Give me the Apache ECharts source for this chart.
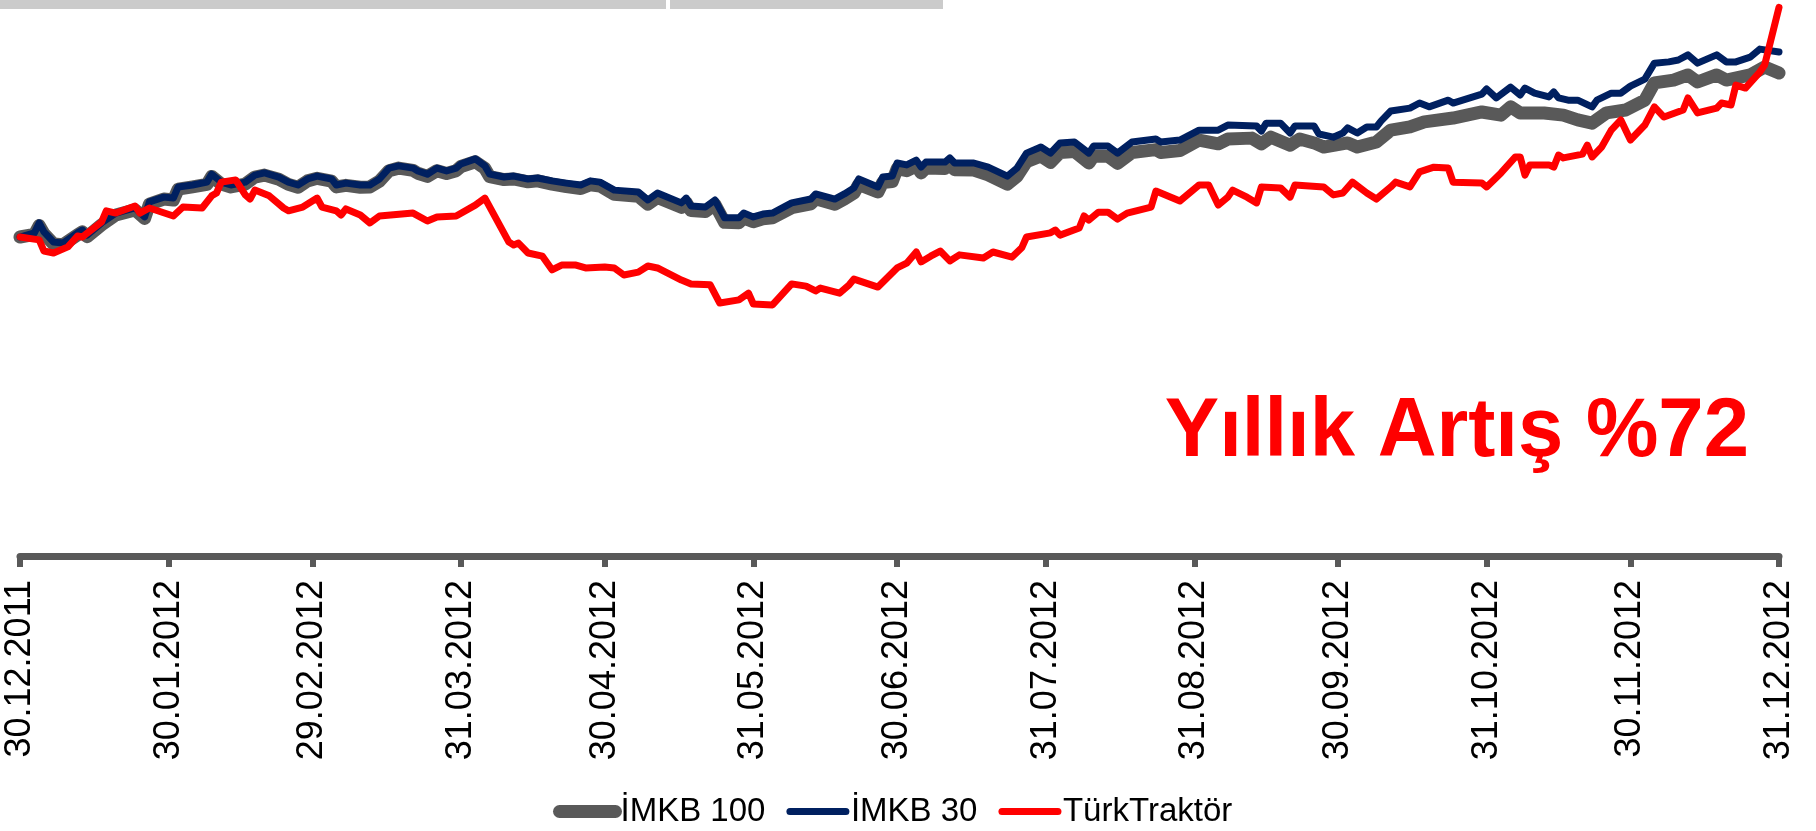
<!DOCTYPE html>
<html>
<head>
<meta charset="utf-8">
<title>TürkTraktör - Yıllık Artış</title>
<script src="https://cdn.jsdelivr.net/npm/echarts@6/dist/echarts.min.js"></script>
<style>
  html, body { margin: 0; padding: 0; background: #fff; }
  #chart { width: 1816px; height: 831px; }
</style>
</head>
<body>
<div id="chart"></div>
<script>
// x = days since 30.12.2011, y = index (30.12.2011 = 100)
const tickDays = [0, 31, 61, 92, 122, 153, 183, 214, 245, 275, 306, 336, 367]
const tickLabels = ['30.12.2011', '30.01.2012', '29.02.2012', '31.03.2012', '30.04.2012', '31.05.2012',
  '30.06.2012', '31.07.2012', '31.08.2012', '30.09.2012', '31.10.2012', '30.11.2012', '31.12.2012']

const imkb100Days = [0, 3, 4, 5, 7, 9, 12, 13, 14, 17, 20, 24, 26, 27, 30, 32, 33, 36, 39, 40,
  42, 44, 47, 49, 51, 54, 56, 58, 60, 62, 65, 66, 68, 71, 73, 75, 77, 79, 82, 83,
  85, 87, 89, 91, 92, 95, 97, 98, 101, 103, 106, 108, 111, 114, 117, 119, 121, 124, 129, 131,
  133, 138, 139, 140, 143, 145, 147, 150, 151, 153, 155, 157, 161, 165, 166, 170, 172, 174, 175, 179,
  180, 182, 183, 185, 187, 188, 189, 193, 194, 195, 199, 202, 206, 208, 210, 213, 215, 217, 220, 223,
  224, 227, 229, 232, 237, 238, 242, 246, 250, 252, 257, 259, 261, 265, 267, 270, 272, 277, 279, 283,
  286, 290, 293, 299, 305, 309, 311, 313, 318, 322, 325, 328, 331, 335, 339, 341, 345, 348, 350, 354,
  356, 361, 364, 367]
const imkb100 = [100, 100.8, 103.6, 101.0, 97.8, 97.6, 100.7, 101.6, 100.1, 103.8, 106.9, 108.5, 105.8, 110.3, 111.9, 111.6, 115.0, 115.7, 116.5, 119.0,
  116.6, 115.7, 116.6, 118.8, 119.4, 118.1, 116.5, 115.6, 117.6, 118.4, 117.5, 115.7, 116.2, 115.6, 115.7, 117.5, 120.8, 121.6, 120.9, 120.0,
  119.0, 120.8, 119.9, 120.8, 122.1, 123.6, 121.5, 118.9, 118.0, 118.2, 117.3, 117.6, 116.6, 115.8, 115.2, 116.4, 116.0, 113.4, 112.8, 110.3,
  112.4, 109.3, 110.8, 108.3, 108.0, 110.2, 104.6, 104.5, 106.0, 104.8, 105.7, 106.0, 109.2, 110.4, 112.0, 110.3, 111.9, 113.8, 116.5, 114.1,
  117.1, 117.4, 121.4, 120.8, 122.3, 120.1, 121.6, 121.5, 122.8, 121.1, 121.0, 119.5, 116.6, 119.0, 123.6, 125.4, 123.4, 126.5, 126.8, 123.2,
  125.4, 125.3, 123.1, 126.5, 127.4, 126.5, 127.1, 130.4, 129.2, 130.7, 131.0, 129.2, 131.3, 128.8, 130.7, 129.5, 128.2, 129.5, 128.2, 129.8,
  133.5, 134.5, 136.1, 137.3, 139.2, 138.2, 140.8, 138.9, 138.9, 138.2, 136.7, 135.7, 138.9, 139.8, 142.9, 148.3, 149.2, 150.8, 148.6, 150.8,
  149.2, 150.8, 153.3, 151.4]

const imkb30Days = [0, 3, 4, 5, 7, 9, 12, 13, 14, 17, 20, 24, 26, 27, 30, 32, 33, 36, 39, 40,
  42, 44, 47, 49, 51, 54, 56, 58, 60, 62, 65, 66, 68, 71, 73, 75, 77, 79, 82, 83,
  85, 87, 89, 91, 92, 95, 97, 98, 101, 103, 106, 108, 111, 114, 117, 119, 121, 124, 129, 131,
  133, 138, 139, 140, 143, 145, 147, 150, 151, 153, 155, 157, 161, 165, 166, 170, 172, 174, 175, 179,
  180, 182, 183, 185, 187, 188, 189, 193, 194, 195, 199, 202, 206, 208, 210, 213, 215, 217, 220, 223,
  224, 227, 229, 232, 237, 238, 242, 246, 250, 252, 258, 259, 260, 263, 265, 266, 270, 271, 274, 276,
  277, 279, 281, 283, 284, 286, 290, 292, 294, 298, 299, 305, 306, 308, 311, 313, 314, 316, 319, 320,
  321, 323, 325, 328, 329, 332, 334, 336, 339, 341, 344, 346, 348, 350, 354, 356, 358, 361, 363, 367]
const imkb30 = [100, 101.3, 104.4, 101.6, 98.4, 98.1, 101.3, 102.2, 100.6, 104.4, 107.5, 109.1, 106.3, 111.0, 112.5, 112.2, 115.7, 116.3, 117.2, 119.7,
  117.2, 116.3, 117.2, 119.4, 120.1, 118.8, 117.2, 116.3, 118.2, 119.1, 118.2, 116.3, 116.9, 116.3, 116.3, 118.2, 121.6, 122.3, 121.6, 120.7,
  119.7, 121.6, 120.7, 121.6, 122.9, 124.5, 122.3, 119.7, 118.8, 119.1, 118.2, 118.5, 117.6, 116.9, 116.3, 117.6, 117.2, 114.7, 114.1, 111.6,
  113.8, 110.7, 112.2, 109.7, 109.4, 111.6, 106.0, 106.0, 107.5, 106.3, 107.2, 107.5, 110.7, 111.9, 113.5, 111.9, 113.5, 115.4, 118.2, 115.7,
  118.8, 119.1, 123.2, 122.6, 124.1, 121.9, 123.5, 123.5, 124.8, 123.2, 123.2, 121.9, 119.1, 121.6, 126.3, 128.2, 126.3, 129.5, 129.8, 126.3,
  128.5, 128.5, 126.3, 129.8, 130.7, 129.8, 130.4, 133.5, 133.5, 135.1, 134.8, 133.2, 135.7, 135.7, 132.6, 134.8, 134.8, 132.3, 131.3, 132.6,
  134.2, 132.6, 134.5, 134.5, 136.4, 139.5, 140.4, 142.0, 140.8, 142.9, 142.0, 144.8, 146.4, 143.6, 147.0, 144.5, 146.7, 145.1, 143.9, 145.5,
  143.6, 142.9, 142.9, 140.8, 142.9, 145.1, 145.1, 147.3, 149.5, 154.5, 154.9, 155.5, 157.1, 154.5, 157.1, 154.9, 154.9, 156.4, 158.9, 158.0]

const turkDays = [0, 4, 5, 7, 10, 12, 13, 17, 18, 20, 24, 25, 27, 32, 34, 38, 40, 41, 42, 45,
  47, 48, 49, 52, 55, 56, 59, 62, 63, 66, 67, 68, 71, 73, 75, 82, 85, 87, 91, 95,
  97, 102, 103, 104, 106, 109, 111, 113, 116, 118, 122, 124, 126, 129, 131, 133, 138, 140, 144, 146,
  150, 152, 153, 157, 161, 164, 166, 167, 171, 173, 174, 179, 183, 185, 187, 188, 190, 192, 194, 196,
  201, 203, 207, 209, 210, 215, 216, 217, 221, 222, 223, 225, 227, 229, 231, 236, 237, 242, 246, 248,
  250, 252, 253, 256, 258, 259, 263, 265, 266, 272, 274, 276, 278, 281, 283, 286, 287, 290, 292, 295,
  298, 299, 305, 306, 309, 312, 313, 314, 315, 319, 320, 321, 322, 326, 327, 328, 330, 332, 334, 336,
  339, 341, 343, 347, 348, 350, 354, 355, 357, 358, 360, 363, 364, 367]
const turk = [100, 99.1, 95.6, 95.0, 96.9, 100.3, 100.0, 104.7, 108.2, 107.5, 109.7, 107.5, 109.1, 106.6, 109.4, 109.1, 112.9, 113.8, 117.2, 117.9,
  113.2, 111.9, 114.7, 112.9, 109.1, 108.2, 109.4, 112.2, 109.4, 108.2, 106.9, 108.8, 106.9, 104.4, 106.6, 107.5, 105.0, 106.3, 106.6, 110.0,
  112.2, 98.4, 97.5, 98.1, 95.0, 94.0, 89.7, 91.2, 91.2, 90.3, 90.6, 90.3, 88.1, 89.0, 90.9, 90.3, 86.5, 85.3, 85.0, 79.3,
  80.3, 82.4, 79.0, 78.7, 85.3, 84.6, 83.1, 84.0, 82.4, 85.0, 86.8, 84.3, 90.3, 91.8, 95.3, 92.2, 94.0, 95.6, 92.5, 94.4,
  93.4, 95.3, 93.7, 96.6, 100.0, 101.3, 102.2, 100.6, 102.8, 106.6, 105.3, 107.8, 107.8, 105.6, 107.5, 109.4, 114.4, 111.3, 116.3, 116.3,
  110.0, 112.5, 114.7, 112.5, 110.7, 115.7, 115.4, 112.5, 116.3, 115.7, 113.2, 113.8, 117.2, 113.8, 111.9, 115.7, 117.2, 115.7, 120.4, 121.9,
  121.6, 117.2, 116.9, 115.7, 120.1, 125.1, 125.1, 119.4, 122.6, 122.6, 121.9, 125.7, 124.8, 126.0, 128.8, 125.1, 128.2, 133.5, 136.7, 130.4,
  135.1, 140.8, 137.6, 139.8, 143.6, 138.9, 140.4, 142.0, 141.4, 147.6, 146.7, 151.7, 153.9, 172]

const toPairs = (days, vals) => days.map((d, i) => [d, vals[i]])

const chart = echarts.init(document.getElementById('chart'))
chart.setOption({
  animation: false,
  textStyle: { fontFamily: 'Liberation Sans' },
  grid: { left: 20, right: 37, top: 0, height: 556, containLabel: false, outerBoundsMode: 'none' },
  xAxis: {
    type: 'value',
    min: 0,
    max: 367,
    axisLine: { show: true, onZero: false, lineStyle: { color: '#595959', width: 7 } },
    axisTick: { show: true, customValues: tickDays, length: 11, lineStyle: { color: '#595959', width: 6 } },
    axisLabel: {
      customValues: tickDays,
      rotate: 90,
      margin: 24,
      fontSize: 36,
      fontFamily: 'Liberation Sans',
      color: '#000',
      formatter: (v) => tickLabels[tickDays.indexOf(v)],
    },
    splitLine: { show: false },
  },
  yAxis: { type: 'value', min: 0, max: 174.3, show: false },
  legend: {
    left: 553,
    top: 795,
    padding: 0,
    itemGap: 21,
    itemWidth: 56,
    itemHeight: 14,
    textStyle: { fontSize: 33, fontFamily: 'Liberation Sans', color: '#000' },
    lineStyle: { width: 'inherit', cap: 'round' },
    itemStyle: { opacity: 0 },
    data: ['İMKB 100', 'İMKB 30', 'TürkTraktör'],
  },
  series: [
    {
      name: 'İMKB 100',
      type: 'line',
      data: toPairs(imkb100Days, imkb100),
      symbol: 'none',
      lineStyle: { color: '#595959', width: 13, join: 'round', cap: 'round' },
      itemStyle: { color: '#595959' },
      z: 2,
    },
    {
      name: 'İMKB 30',
      type: 'line',
      data: toPairs(imkb30Days, imkb30),
      symbol: 'none',
      lineStyle: { color: '#002060', width: 7, join: 'round', cap: 'round' },
      itemStyle: { color: '#002060' },
      z: 3,
    },
    {
      name: 'TürkTraktör',
      type: 'line',
      data: toPairs(turkDays, turk),
      symbol: 'none',
      lineStyle: { color: '#ff0000', width: 7, join: 'round', cap: 'round' },
      itemStyle: { color: '#ff0000' },
      z: 4,
    },
  ],
  graphic: [
    // slide remnants at the top edge
    { type: 'rect', left: 0, top: 0, shape: { width: 666, height: 9 }, style: { fill: '#cbcbcb' }, silent: true },
    { type: 'rect', left: 670, top: 0, shape: { width: 273, height: 9 }, style: { fill: '#cbcbcb' }, silent: true },
    {
      type: 'text',
      x: 1749,
      y: 433,
      scaleX: 0.97,
      style: {
        text: 'Yıllık Artış %72',
        fill: '#ff0000',
        font: 'bold 84px "Liberation Sans"',
        align: 'right',
        verticalAlign: 'middle',
      },
      silent: true,
    },
    {
      type: 'text',
      x: 1713,
      y: 828,
      style: { text: '13', fill: '#000', font: '28px "Liberation Sans"', align: 'left', verticalAlign: 'top' },
      silent: true,
    },
  ],
})
</script>
</body>
</html>
